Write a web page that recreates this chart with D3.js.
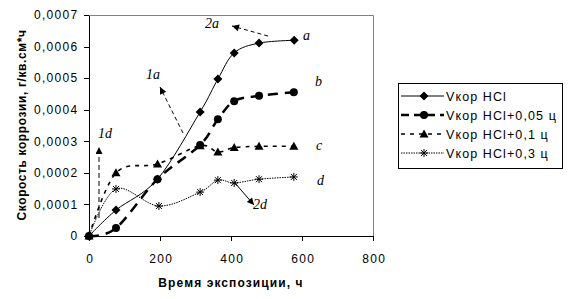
<!DOCTYPE html>
<html><head><meta charset="utf-8">
<script src="https://cdn.jsdelivr.net/npm/d3@7"></script>
<style>body{margin:0;background:#fff}svg{display:block}text{font-family:"Liberation Sans",Arial,sans-serif}text.it{font-family:"Liberation Serif","Times New Roman",serif;font-style:italic}</style>
</head><body>
<svg id="c" width="570" height="299"></svg>
<script>
const xTicks = [0, 200, 400, 600, 800];
const yTicks = [0, 0.0001, 0.0002, 0.0003, 0.0004, 0.0005, 0.0006, 0.0007];
const seriesNames = ["Vкор HCl", "Vкор HCl+0,05 ц", "Vкор HCl+0,1 ц", "Vкор HCl+0,3 ц"];
const hoursA = [0, 76, 193, 313, 363, 409, 479, 578];
const valsA = [0, 0.000082, 0.00018, 0.000393, 0.000497, 0.00058, 0.000611, 0.00062];
const hoursB = [0, 76, 193, 313, 363, 409, 479, 577];
const valsB = [0, 0.000025, 0.00018, 0.000288, 0.00037, 0.000427, 0.000444, 0.000455];
const hoursC = [0, 76, 193, 313, 363, 409, 479, 577];
const valsC = [0, 0.0002, 0.000228, 0.000286, 0.000266, 0.00028, 0.000284, 0.000284];
const hoursD = [0, 76, 197, 313, 363, 409, 479, 577];
const valsD = [0, 0.000149, 0.000095, 0.000139, 0.000177, 0.000168, 0.00018, 0.000187];
const curveLabels = ["a", "b", "c", "d"];

const svg = d3.select("#c");
const L = 89, R = 373, T = 15, B = 236;
const x = d3.scaleLinear().domain([0, 800]).range([L, R]);
const y = d3.scaleLinear().domain([0, 0.0007]).range([B, T]);
const fmt = v => v === 0 ? "0" : d3.format(".4f")(v).replace(".", ",");

svg.append("path").attr("d", `M${L},${T+0.5}H${R+0.5}V${B}`).attr("fill", "none").attr("stroke", "#808080");

const gy = svg.append("g").attr("transform", `translate(${L},0)`)
  .call(d3.axisLeft(y).tickValues(yTicks).tickFormat(fmt).tickSize(5).tickSizeOuter(0));
const gx = svg.append("g").attr("transform", `translate(0,${B})`)
  .call(d3.axisBottom(x).tickValues(xTicks).tickFormat(d3.format("d")).tickSize(5).tickSizeOuter(0));
[gy, gx].forEach(g => {
  g.selectAll("path,line").attr("stroke", "#000").attr("shape-rendering", "crispEdges");
  g.selectAll("text").attr("font-size", 12).attr("fill", "#000").attr("letter-spacing", 1.3);
});
gy.selectAll("text").attr("x", -10.5);
gx.selectAll("text").attr("dy", "1.55em").attr("dx", 0.65);

svg.append("text").attr("x", 231).attr("y", 287).attr("text-anchor", "middle")
  .attr("font-size", 12).attr("font-weight", "bold").attr("letter-spacing", 1.1).text("Время экспозиции, ч");
svg.append("text").attr("transform", "translate(26,125) rotate(-90)").attr("text-anchor", "middle")
  .attr("font-size", 12).attr("font-weight", "bold").attr("letter-spacing", 0.6).text("Скорость коррозии, г/кв.см*ч");

const series = [
  {h: hoursA, v: valsA, dash: null, w: 1, m: "diamond"},
  {h: hoursB, v: valsB, dash: "10,7", w: 2.5, m: "circle"},
  {h: hoursC, v: valsC, dash: "4,5", w: 1.6, m: "triangle"},
  {h: hoursD, v: valsD, dash: "1.5,1", w: 1, m: "star"}
];
const line = d3.line().x(d => x(d[0])).y(d => y(d[1])).curve(d3.curveCardinal.tension(0));

function marker(g, type, cx, cy) {
  if (type === "diamond") g.append("path").attr("d", `M${cx},${cy-4.5}L${cx+4.5},${cy}L${cx},${cy+4.5}L${cx-4.5},${cy}Z`).attr("fill", "#000");
  else if (type === "circle") g.append("circle").attr("cx", cx).attr("cy", cy).attr("r", 4).attr("fill", "#000");
  else if (type === "triangle") g.append("path").attr("d", `M${cx},${cy-4.5}L${cx+4.5},${cy+3.5}L${cx-4.5},${cy+3.5}Z`).attr("fill", "#000");
  else {
    const p = `M${cx-4},${cy}H${cx+4}M${cx},${cy-4}V${cy+4}M${cx-3},${cy-3}L${cx+3},${cy+3}M${cx-3},${cy+3}L${cx+3},${cy-3}`;
    g.append("path").attr("d", p).attr("stroke", "#000").attr("stroke-width", 1).attr("fill", "none");
  }
}

series.forEach(s => {
  const pts = s.h.map((h, i) => [h, s.v[i]]);
  svg.append("path").attr("d", line(pts)).attr("fill", "none").attr("stroke", "#000")
    .attr("stroke-width", s.w).attr("stroke-dasharray", s.dash);
  const g = svg.append("g");
  pts.forEach(p => marker(g, s.m, x(p[0]), y(p[1])));
});

const endLabelPos = [[303, 40], [315, 86], [316, 150], [317, 185]];
curveLabels.forEach((t, i) => {
  svg.append("text").attr("class", "it").attr("x", endLabelPos[i][0]).attr("y", endLabelPos[i][1])
    .attr("font-size", 14).text(t);
});

const defs = svg.append("defs");
defs.append("marker").attr("id", "ah").attr("viewBox", "0 0 10 10").attr("refX", 10).attr("refY", 5)
  .attr("markerWidth", 9).attr("markerHeight", 7).attr("markerUnits", "userSpaceOnUse").attr("orient", "auto")
  .append("path").attr("d", "M0,0L10,5L0,10Z").attr("fill", "#000");
const arrows = [
  {x1: 268, y1: 36, x2: 232, y2: 26, dash: "4,3", label: "2a", lx: 205, ly: 28},
  {x1: 183, y1: 133, x2: 160, y2: 87, dash: "4,3", label: "1a", lx: 146, ly: 79},
  {x1: 99, y1: 218, x2: 99, y2: 147, dash: "5,3", label: "1d", lx: 98, ly: 138},
  {x1: 235, y1: 183, x2: 254, y2: 205, dash: null, label: "2d", lx: 253, ly: 209}
];
arrows.forEach(a => {
  svg.append("line").attr("x1", a.x1).attr("y1", a.y1).attr("x2", a.x2).attr("y2", a.y2)
    .attr("stroke", "#000").attr("stroke-width", 1).attr("stroke-dasharray", a.dash).attr("marker-end", "url(#ah)");
  svg.append("text").attr("class", "it").attr("x", a.lx).attr("y", a.ly)
    .attr("font-size", 14).text(a.label);
});

const lg = svg.append("g");
lg.append("rect").attr("x", 398.5).attr("y", 83.5).attr("width", 164).attr("height", 85)
  .attr("fill", "#fff").attr("stroke", "#000");
seriesNames.forEach((n, i) => {
  const yy = 96 + i * 19;
  const s = series[i];
  lg.append("line").attr("x1", 401).attr("x2", 444).attr("y1", yy).attr("y2", yy)
    .attr("stroke", "#000").attr("stroke-width", s.w).attr("stroke-dasharray", s.dash ? (i === 1 ? "8,5" : s.dash) : null);
  marker(lg, s.m, 424, yy);
  lg.append("text").attr("x", 446).attr("y", yy + 4.5).attr("font-size", 12.5).attr("letter-spacing", 1.1).text(n);
});
</script>
</body></html>
